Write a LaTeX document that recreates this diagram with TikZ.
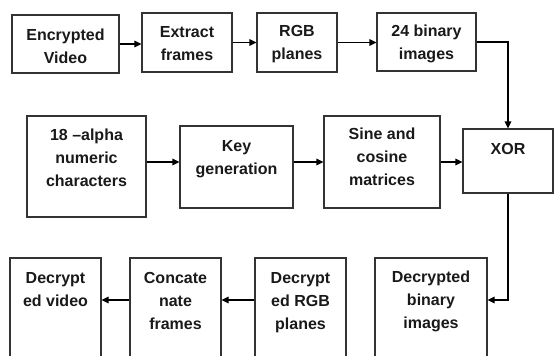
\documentclass[tikz,border=0pt]{standalone}
\usepackage{fontspec}
\setmainfont{Liberation Sans}
\usetikzlibrary{positioning,arrows.meta}

\begin{document}
\begin{tikzpicture}[x=1pt,y=-1pt,line width=1.1pt,
  box/.style={draw=black!80,inner sep=0pt},
  txt/.style={align=center,inner sep=0pt,text=black!90,
    font={\fontsize{16}{23}\selectfont\bfseries}},
  >={Triangle[length=7pt,width=6.5pt]}]
\useasboundingbox (0,0) rectangle (555,356);
\clip (0,0) rectangle (555,356);
% first row
\node[box,minimum width=107pt,minimum height=58pt] (enc) at (65.5,44) {};
\node[box,minimum width=90pt,minimum height=59pt] (ext) at (187,42.5) {};
\node[box,minimum width=80pt,minimum height=59pt] (rgb) at (297,42.5) {};
\node[box,minimum width=99pt,minimum height=58pt] (bin) at (426.5,42) {};
% second row
\node[box,minimum width=119pt,minimum height=101pt] (alpha) at (86.5,166.5) {};
\node[box,minimum width=113pt,minimum height=82pt] (key) at (236.5,167) {};
\node[box,minimum width=116pt,minimum height=92pt] (sine) at (382,162) {};
\node[box,minimum width=90pt,minimum height=64pt] (xor) at (508,161) {};
% third row, cut off at the bottom
\node[box,minimum width=91pt,minimum height=114pt] (dvid) at (55.5,315) {};
\node[box,minimum width=91pt,minimum height=114pt] (cat) at (175.5,315) {};
\node[box,minimum width=91pt,minimum height=114pt] (drgb) at (300.5,315) {};
\node[box,minimum width=112pt,minimum height=114pt] (dbin) at (431,315) {};
\coordinate (r3) at (0,300);

\node[txt,below=14pt of enc.north] (enc-t) {Encrypted\\Video};
\node[txt,below=13pt of ext.north] (ext-t) {Extract\\frames};
\node[txt,below=12pt of rgb.north] (rgb-t) {RGB\\planes};
\node[txt,below=12pt of bin.north] (bin-t) {24 binary\\images};
\node[txt,below=13pt of alpha.north] (alpha-t) {18 --alpha\\numeric\\characters};
\node[txt,below=14pt of key.north] (key-t) {Key\\generation};
\node[txt,below=12pt of sine.north] (sine-t) {Sine and\\cosine\\matrices};
\node[txt,below=14pt of xor.north] (xor-t) {XOR};
\node[txt,below=14pt of dvid.north] (dvid-t) {Decrypt\\ed video};
\node[txt,below=14pt of cat.north] (cat-t) {Concate\\nate\\frames};
\node[txt,below=14pt of drgb.north] (drgb-t) {Decrypt\\ed RGB\\planes};
\node[txt,below=13pt of dbin.north] (dbin-t) {Decrypted\\binary\\images};

\draw[->] (enc.east) -- (enc.east -| ext.west);
\draw[->] (ext.east) -- (ext.east -| rgb.west);
\draw[->] (rgb.east) -- (rgb.east -| bin.west);
\draw[->] (bin.east) -| (xor.north);
\draw[->] (alpha.east |- sine) -- (key.west |- sine);
\draw[->] (key.east |- sine) -- (sine.west);
\draw[->] (sine.east) -- (sine.east -| xor.west);
\draw[->] (xor.south) |- (dbin.east |- r3);
\draw[->] (drgb.west |- r3) -- (cat.east |- r3);
\draw[->] (cat.west |- r3) -- (dvid.east |- r3);
\end{tikzpicture}
\end{document}
